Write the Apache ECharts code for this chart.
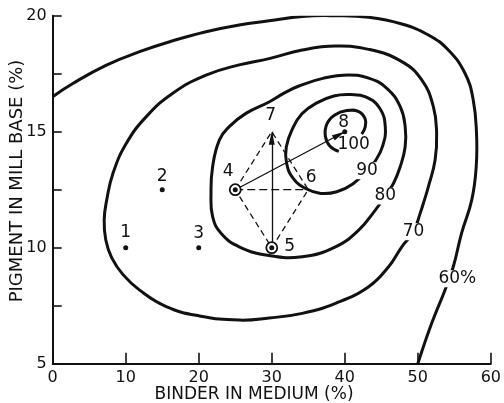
<!DOCTYPE html>
<html>
<head>
<meta charset="utf-8">
<script src="https://cdn.jsdelivr.net/npm/echarts@6/dist/echarts.min.js"></script>
<style>
  html, body { margin: 0; padding: 0; background: #fff; }
  #chart { width: 504px; height: 403px; }
</style>
</head>
<body>
<div id="chart"></div>
<script>
// Contours of equal colour strength (%), binder in medium (x) vs pigment in mill base (y)
const contour60 = [[0,16.51],[2.81,17.09],[7.36,17.87],[11.9,18.45],[16.45,18.92],[21.0,19.31],[25.54,19.6],[29.63,19.78],[34.17,19.97],[38.73,20.0],[43.27,19.93],[47.81,19.64],[51.45,19.17],[54.18,18.52],[56.46,17.52],[57.59,16.37],[58.04,14.93],[58.0,13.49],[57.39,12.06],[55.99,10.62],[54.86,9.18],[53.73,8.18],[51.9,6.74],[50.0,5.0]];
const contour70 = [[49.41,10.69],[50.32,11.48],[50.91,12.06],[51.45,12.63],[52.37,13.78],[52.58,14.93],[52.13,16.08],[50.54,17.23],[47.81,18.02],[43.27,18.55],[38.73,18.69],[34.17,18.52],[29.63,18.15],[25.54,17.88],[21.0,17.44],[16.45,16.66],[12.82,15.65],[10.09,14.5],[8.26,13.21],[7.4,12.06],[7.05,11.2],[7.27,10.33],[8.09,9.56],[9.6,8.85],[11.9,8.17],[15.55,7.46],[20.09,7.06],[25.54,6.88],[29.63,6.97],[34.17,7.17],[38.73,7.6],[43.27,8.32],[46.0,9.18],[47.81,10.04]];
const contour80 = [[45.55,12.23],[46.68,12.78],[47.59,13.49],[48.27,14.35],[48.27,15.22],[47.59,16.08],[45.72,16.88],[43.27,17.31],[40.54,17.44],[37.13,17.31],[33.72,16.97],[31.68,16.66],[29.63,16.28],[26.46,15.79],[24.18,15.22],[22.82,14.64],[21.9,13.49],[21.68,12.34],[21.9,11.34],[23.05,10.62],[25.54,10.04],[29.63,9.66],[34.17,9.61],[38.73,10.04],[41.91,10.76],[44.18,11.62]];
const contour90 = [[43.04,13.32],[44.18,13.74],[45.18,14.38],[45.55,15.2],[44.77,16.02],[42.86,16.5],[40.82,16.6],[38.5,16.54],[36.18,16.24],[34.13,15.77],[32.77,15.08],[31.99,14.34],[32.02,13.65],[32.91,13.0],[34.64,12.55],[36.72,12.34],[38.91,12.41],[41.09,12.75]];
const contour100 = [[39.18,14.15],[37.95,14.38],[37.34,14.81],[37.54,15.33],[38.63,15.72],[40.27,15.91],[41.91,15.87],[42.79,15.55],[42.79,15.2],[42.32,14.9]];

// Contour level labels and where they sit on their curves
const levelText = ['60%', '70', '80', '90', '100'];
const levelX = [55.41, 49.41, 45.55, 43.04, 41.22];
const levelY = [8.66, 10.69, 12.23, 13.32, 14.43];

// Experimental points
const pointIds = ['1', '2', '3', '4', '5', '6', '7', '8'];
const pointX = [10, 15, 20, 25, 30, 35, 30, 40];
const pointY = [10, 12.5, 10, 12.5, 10, 12.5, 15, 15];
const dottedIds = ['1', '2', '3', '4', '5', '8'];
const circledIds = ['4', '5'];

// Search moves: dashed simplex outline, and the two accepted steps (arrows)
const simplexPath = ['4', '7', '6', '5', '4'];
const baseLine = ['4', '6'];
const moves = [['5', '7'], ['4', '8']];

// Axis tick labels
const xTickLabels = [0, 10, 20, 30, 40, 50, 60];
const yTickLabels = [5, 10, 15, 20];

const INK = '#111';
const FONT = 'DejaVu Sans';
const pt = id => { const i = pointIds.indexOf(id); return [pointX[i], pointY[i]]; };

// label placement relative to each point (px)
const pointLabelOffset = {
  '1': [0, -15], '2': [0, -13], '3': [0, -14], '4': [-7, -18],
  '5': [18, -1], '6': [3, -12], '7': [-1, -16], '8': [-1, -9]
};

// A contour drawn as one smooth curve through its points (closed loops join up smoothly)
function contourSeries(data, closed) {
  return {
    type: 'custom', coordinateSystem: 'cartesian2d', data: data,
    encode: { x: 0, y: 1 }, silent: true, z: 2, clip: true,
    renderItem: (params, api) => {
      if (params.dataIndex !== 0) return null;
      return {
        type: closed ? 'polygon' : 'polyline',
        shape: { points: data.map(p => api.coord(p)), smooth: 0.45 },
        style: { fill: 'none', stroke: INK, lineWidth: 3 }
      };
    }
  };
}

// narrow filled arrowhead with its tip at the centre of a square box
const arrowHead = 'path://M0,0 M26,26 M13,13 L16,26 L10,26 Z';

const chart = echarts.init(document.getElementById('chart'), null, { renderer: 'canvas' });
chart.setOption({
  backgroundColor: '#fff',
  animation: false,
  grid: { left: 52.7, right: 11.3, top: 15.7, bottom: 39.3 },
  xAxis: {
    type: 'value', min: 0, max: 60, interval: 10,
    axisLine: { show: true, onZero: false, lineStyle: { color: INK, width: 2 } },
    axisTick: { show: true, inside: true, length: 11, lineStyle: { color: INK, width: 1.6 } },
    axisLabel: {
      margin: 6, fontSize: 16, color: INK, fontFamily: FONT,
      formatter: v => xTickLabels.indexOf(v) >= 0 ? String(v) : ''
    },
    splitLine: { show: false }
  },
  yAxis: {
    type: 'value', min: 5, max: 20, interval: 2.5,
    axisLine: { show: true, onZero: false, lineStyle: { color: INK, width: 2 } },
    axisTick: { show: true, inside: true, length: 9, lineStyle: { color: INK, width: 1.6 } },
    axisLabel: {
      margin: 6, fontSize: 16, color: INK, fontFamily: FONT,
      formatter: v => yTickLabels.indexOf(v) >= 0 ? String(v) : ''
    },
    splitLine: { show: false }
  },
  graphic: [
    {
      type: 'text', x: 254, y: 395, z: 10,
      style: { text: 'BINDER IN MEDIUM (%)', font: '17px "DejaVu Sans"', fill: INK, align: 'center', verticalAlign: 'middle' }
    },
    {
      type: 'text', x: 17, y: 181, rotation: Math.PI / 2, z: 10,
      style: { text: 'PIGMENT IN MILL BASE (%)', font: '18px "DejaVu Sans"', fill: INK, align: 'center', verticalAlign: 'middle' }
    }
  ],
  series: [
    contourSeries(contour60, false),
    contourSeries(contour70, true),
    contourSeries(contour80, true),
    contourSeries(contour90, true),
    contourSeries(contour100, false),
    {
      type: 'line', data: simplexPath.map(pt), symbol: 'none', silent: true, z: 3,
      lineStyle: { color: INK, width: 1.3, type: [6, 4] }
    },
    {
      type: 'line', data: baseLine.map(pt), symbol: 'none', silent: true, z: 3,
      lineStyle: { color: INK, width: 1.3, type: [8, 4] }
    },
    {
      type: 'lines', coordinateSystem: 'cartesian2d', silent: true, z: 4,
      data: moves.map(m => ({ coords: [pt(m[0]), pt(m[1])] })),
      symbol: ['none', arrowHead], symbolSize: 26,
      lineStyle: { color: INK, width: 1.3, opacity: 1, curveness: 0 }
    },
    {
      type: 'scatter', data: circledIds.map(pt), symbol: 'circle', symbolSize: 11, silent: true, z: 5,
      itemStyle: { color: '#fff', borderColor: INK, borderWidth: 1.8, opacity: 1 }
    },
    {
      type: 'scatter', data: dottedIds.map(pt), symbol: 'circle', symbolSize: 5, silent: true, z: 6,
      itemStyle: { color: INK, opacity: 1 }
    },
    {
      type: 'scatter', silent: true, z: 7, symbolSize: 0,
      itemStyle: { opacity: 1 },
      data: pointIds.map((id, i) => ({
        name: id, value: [pointX[i], pointY[i]],
        label: { offset: pointLabelOffset[id] }
      })),
      label: {
        show: true, position: 'inside', formatter: p => p.name,
        fontSize: 17, color: INK, fontFamily: FONT
      }
    },
    {
      type: 'scatter', silent: true, z: 8, symbolSize: 0,
      itemStyle: { opacity: 1 },
      data: levelText.map((t, i) => ({
        name: t, value: [levelX[i], levelY[i]],
        label: t === '100' ? {} : { backgroundColor: '#fff', padding: [0, 1] }
      })),
      label: {
        show: true, position: 'inside', formatter: p => p.name,
        fontSize: 17, color: INK, fontFamily: FONT
      }
    }
  ]
});
</script>
</body>
</html>
